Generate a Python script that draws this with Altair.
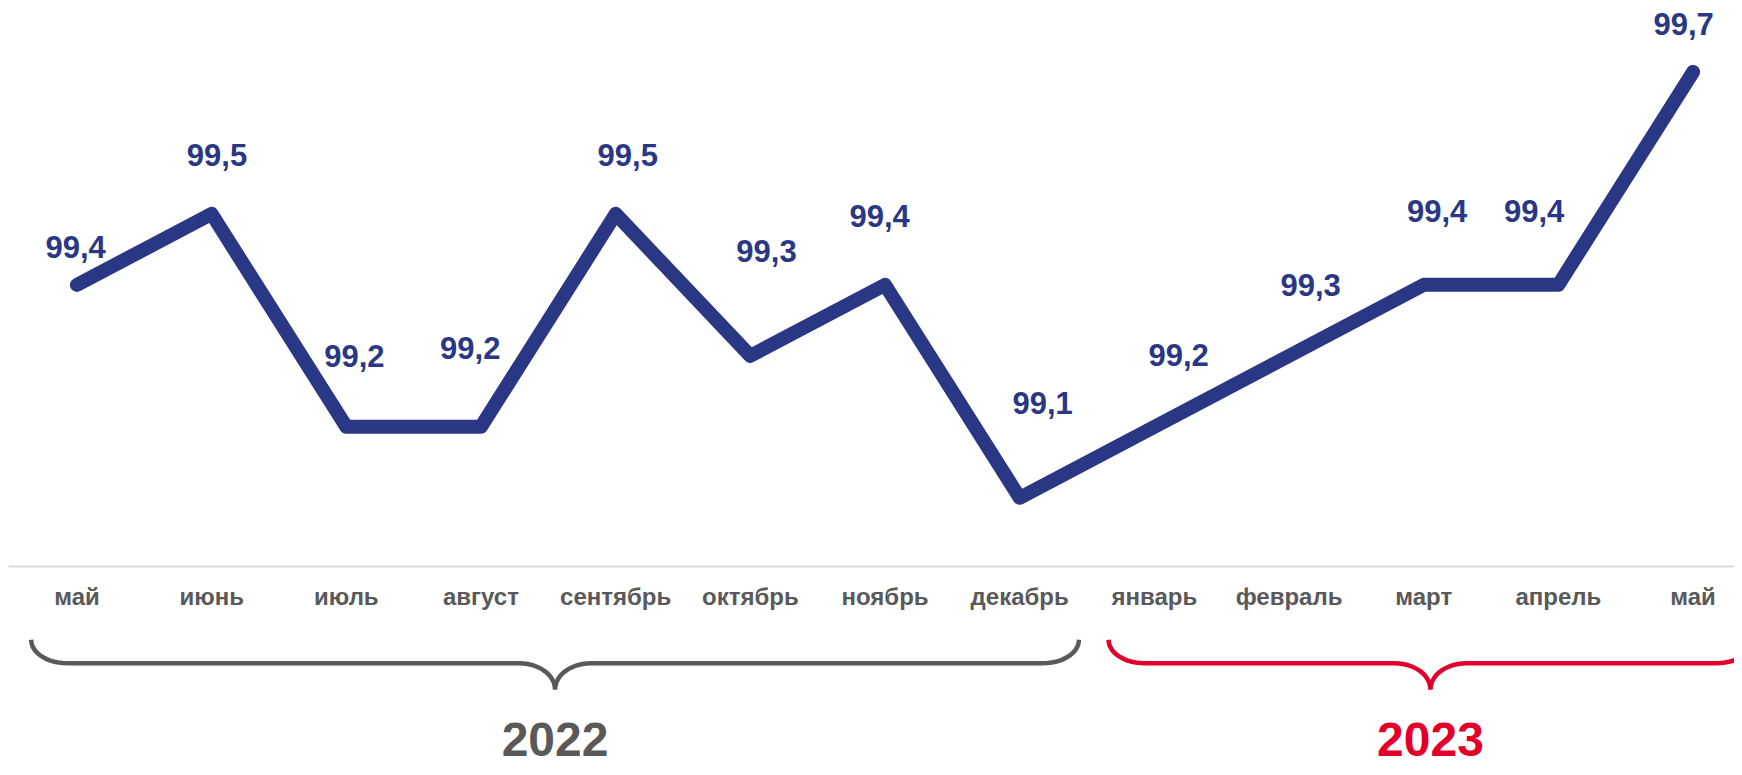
import altair as alt
import pandas as pd
import numpy as np

# ---- data ----
months = ["май", "июнь", "июль", "август", "сентябрь", "октябрь", "ноябрь",
          "декабрь", "январь", "февраль", "март", "апрель", "май"]
values = [99.4, 99.5, 99.2, 99.2, 99.5, 99.3, 99.4, 99.1, 99.2, 99.3, 99.4, 99.4, 99.7]
years = ["2022", "2023"]
year_first = [0, 8]    # index of first month of each year
year_last = [7, 12]    # index of last month of each year

# ---- label placement (manual nudges, as in the original: value units / month units) ----
label_lift = [0.051, 0.080, 0.097, 0.108, 0.080, 0.145, 0.094, 0.131, 0.099, 0.097, 0.101, 0.101, 0.064]
label_shift = [-0.01, 0.04, 0.06, -0.08, 0.09, 0.12, -0.04, 0.17, 0.18, 0.16, 0.10, -0.18, -0.07]

# ---- styles ----
NAVY = "#293785"
GRAY = "#595959"
RED = "#E2002B"
AXIS = "#D9D9D9"
FONT = "Liberation Sans"

idx = list(range(len(months)))
df = pd.DataFrame({
    "i": idx,
    "month": months,
    "v": values,
    "label": [f"{v:.1f}".replace(".", ",") for v in values],
})
df["lx"] = df["i"] + pd.Series(label_shift)
df["ly"] = df["v"] + pd.Series(label_lift)

x_scale = alt.Scale(domain=[-0.512, 12.304], nice=False, zero=False)
y_scale = alt.Scale(domain=[99.004, 99.790], nice=False, zero=False)

# levels (in value units, below the plotted range) for decorations
MONTH_Y = 98.959
BR_TOP, BR_MID, BR_TIP = 98.900, 98.867, 98.830
YEAR_Y = 98.756


def brace(x0, x1, rx=0.267, n=14):
    xm = (x0 + x1) / 2
    t = np.linspace(0, np.pi / 2, n)
    xs, ys = [], []
    xs += list(x0 + rx * (1 - np.cos(t))); ys += list(BR_TOP - (BR_TOP - BR_MID) * np.sin(t))
    xs += list(xm - rx + rx * np.sin(t)); ys += list(BR_MID - (BR_MID - BR_TIP) * (1 - np.cos(t)))
    xs += list(xm + rx * (1 - np.cos(t))); ys += list(BR_TIP + (BR_MID - BR_TIP) * np.sin(t))
    xs += list(x1 - rx + rx * np.sin(t)); ys += list(BR_MID + (BR_TOP - BR_MID) * (1 - np.cos(t)))
    return xs, ys


rows = []
for y, a, b in zip(years, year_first, year_last):
    xs, ys = brace(a - 0.34, b + 0.44)
    for k, (xx, yy) in enumerate(zip(xs, ys)):
        rows.append({"year": y, "seq": k, "x": xx, "y": yy})
brace_df = pd.DataFrame(rows)

year_df = pd.DataFrame({
    "year": years,
    "xm": [((a - 0.34) + (b + 0.44)) / 2 for a, b in zip(year_first, year_last)],
})

color_scale = alt.Scale(domain=years, range=[GRAY, RED])

line = alt.Chart(df).mark_line(
    color=NAVY, strokeWidth=14, strokeCap="round", strokeJoin="round"
).encode(
    x=alt.X("i:Q", scale=x_scale,
            axis=alt.Axis(domain=True, domainColor=AXIS, domainWidth=2,
                          ticks=False, labels=False, grid=False, title=None)),
    y=alt.Y("v:Q", scale=y_scale, axis=None),
)

value_labels = alt.Chart(df).mark_text(
    fontSize=31, fontWeight="bold", font=FONT, color=NAVY,
    align="center", baseline="middle"
).encode(
    x=alt.X("lx:Q", scale=x_scale),
    y=alt.Y("ly:Q", scale=y_scale),
    text="label:N",
)

month_labels = alt.Chart(df).mark_text(
    fontSize=24, fontWeight="bold", font=FONT, color=GRAY,
    align="center", baseline="middle"
).encode(
    x=alt.X("i:Q", scale=x_scale),
    y=alt.datum(MONTH_Y),
    text="month:N",
)

braces = alt.Chart(brace_df).mark_line(strokeWidth=4.5, strokeCap="butt").encode(
    x=alt.X("x:Q", scale=x_scale),
    y=alt.Y("y:Q", scale=y_scale),
    color=alt.Color("year:N", scale=color_scale, legend=None),
    detail="year:N",
    order="seq:Q",
)

year_labels = alt.Chart(year_df).mark_text(
    fontSize=48, fontWeight="bold", font=FONT, align="center", baseline="middle"
).encode(
    x=alt.X("xm:Q", scale=x_scale),
    y=alt.datum(YEAR_Y),
    text="year:N",
    color=alt.Color("year:N", scale=color_scale, legend=None),
)

chart = alt.layer(line, value_labels, month_labels, braces, year_labels).properties(
    width=1726,
    height=558,
    autosize=alt.AutoSizeParams(type="none"),
    padding={"left": 0, "top": 0, "right": 0, "bottom": 201},
    background="white",
).configure_view(strokeWidth=0)

chart.save("out.html", embed_options={"renderer": "svg", "actions": False})
